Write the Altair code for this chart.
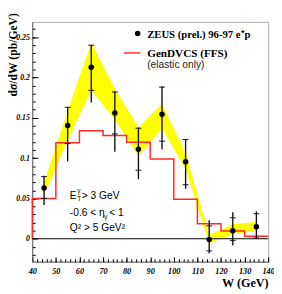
import altair as alt
import pandas as pd

# ---- data ----
W = [45, 55, 65, 75, 85, 95, 105, 115, 125, 135]
xsec = [0.063, 0.1405, 0.2126, 0.156, 0.111, 0.1545, 0.0956, -0.001, 0.010, 0.015]
err_lo = [0.042, 0.096, 0.169, 0.108, 0.074, 0.111, 0.062, -0.018, -0.008, 0.000]
err_hi = [0.078, 0.163, 0.240, 0.183, 0.138, 0.189, 0.124, 0.023, 0.033, 0.034]
stat_lo = [0.050, 0.118, 0.184, 0.130, 0.085, 0.121, 0.067, -0.015, -0.002, 0.001]
stat_hi = [0.077, 0.163, 0.240, 0.182, 0.137, 0.188, 0.123, 0.016, 0.026, 0.031]
band_lo = [0.054, 0.122, 0.184, 0.148, 0.102, 0.137, 0.086, -0.006, 0.006, 0.010]
band_hi = [0.070, 0.158, 0.243, 0.186, 0.138, 0.167, 0.106, 0.005, 0.018, 0.021]

mc_edges = [40, 40, 50, 60, 70, 80, 90, 100, 110, 120, 130, 140]
mc_vals = [0.0, 0.050, 0.119, 0.134, 0.128, 0.1197, 0.099, 0.049, 0.0185, 0.0096, 0.003, 0.003]

x_major = list(range(40, 141, 10))
x_minor = list(range(40, 141, 2))
y_major = [0, 0.05, 0.1, 0.15, 0.2, 0.25]
y_minor = [round(-0.02 + 0.01 * k, 3) for k in range(29)]

data = pd.DataFrame(dict(W=W, xsec=xsec, err_lo=err_lo, err_hi=err_hi,
                         stat_lo=stat_lo, stat_hi=stat_hi,
                         band_lo=band_lo, band_hi=band_hi))
mc = pd.DataFrame({"edge": mc_edges, "val": mc_vals, "i": list(range(len(mc_edges)))})
dummy = pd.DataFrame({"a": [0]})

SERIF = "Liberation Serif"
SANS = "Liberation Sans"
PW, PH = 243, 247

xs = alt.Scale(domain=[40, 140], nice=False, zero=False)
ys = alt.Scale(domain=[-0.0284, 0.2689], nice=False, zero=False)

x_lab_axis = alt.Axis(orient="bottom", values=x_major, ticks=False, tickSize=0,
                      domain=True, domainColor="#666", grid=False,
                      labelFont=SERIF, labelFontStyle="italic", labelFontWeight="bold",
                      labelFontSize=8.5, labelColor="black", labelPadding=5,
                      labelFlush=False, labelOverlap=False,
                      title="W (GeV)", titleFont=SERIF, titleFontWeight="bold",
                      titleFontSize=12.5, titleColor="black", titleAnchor="end",
                      titleAlign="right", titleX=PW, titleY=26,
                      titleBaseline="alphabetic")
y_lab_axis = alt.Axis(orient="left", values=y_major, ticks=False, tickSize=0,
                      domain=True, domainColor="#666", grid=False,
                      labelExpr="format(datum.value, '.2~f')",
                      labelFont=SERIF, labelFontStyle="italic", labelFontWeight="bold",
                      labelFontSize=8, labelColor="black", labelPadding=3,
                      labelFlush=False, labelOverlap=False,
                      title="dσ/dW (pb/GeV)", titleFont=SERIF, titleFontWeight="bold",
                      titleFontSize=12, titleColor="black", titleAngle=270,
                      titleAlign="right", titleBaseline="alphabetic",
                      titleX=-15.8, titleY=-9.5)
x_maj_axis = alt.Axis(orient="bottom", values=x_major, labels=False, domain=False,
                      grid=False, tickSize=5, tickColor="black", offset=-5, title=None)
x_min_axis = alt.Axis(orient="bottom", values=x_minor, labels=False, domain=False,
                      grid=False, tickSize=3, tickColor="black", offset=-3, title=None)
y_maj_axis = alt.Axis(orient="left", values=y_major, labels=False, domain=False,
                      grid=False, tickSize=6, tickColor="black", offset=-6, title=None)
y_min_axis = alt.Axis(orient="left", values=y_minor, labels=False, domain=False,
                      grid=False, tickSize=3, tickColor="black", offset=-3, title=None)

band = alt.Chart(data).mark_area(color="#ffff00", opacity=1).encode(
    x=alt.X("W:Q", scale=xs, axis=x_lab_axis),
    y=alt.Y("band_lo:Q", scale=ys, axis=y_lab_axis),
    y2="band_hi:Q")

mc_line = alt.Chart(mc).mark_line(color="#ff2a2a", strokeWidth=1.5,
                                  interpolate="step-after").encode(
    x=alt.X("edge:Q", scale=xs, axis=None),
    y=alt.Y("val:Q", scale=ys, axis=None),
    order="i:O")

zero = alt.Chart(dummy).mark_rule(color="black", strokeWidth=1).encode(
    x=alt.value(0), x2=alt.value(PW), y=alt.YDatum(0, scale=ys, axis=None))

err = alt.Chart(data).mark_rule(color="#111", strokeWidth=1.4).encode(
    x=alt.X("W:Q", scale=xs, axis=x_maj_axis),
    y=alt.Y("err_lo:Q", scale=ys, axis=y_maj_axis),
    y2="err_hi:Q")

tick_lo = alt.Chart(data).mark_tick(orient="horizontal", size=6, thickness=1,
                                    color="#111", opacity=1).encode(
    x=alt.X("W:Q", scale=xs, axis=x_min_axis),
    y=alt.Y("stat_lo:Q", scale=ys, axis=y_min_axis))
tick_hi = alt.Chart(data).mark_tick(orient="horizontal", size=6, thickness=1,
                                    color="#111", opacity=1).encode(
    x=alt.X("W:Q", scale=xs, axis=None),
    y=alt.Y("stat_hi:Q", scale=ys, axis=None))

pts = alt.Chart(data).mark_circle(size=32, color="black", opacity=1).encode(
    x=alt.X("W:Q", scale=xs, axis=None),
    y=alt.Y("xsec:Q", scale=ys, axis=None))

# ---- legend ----
leg_pt = alt.Chart(dummy).mark_circle(size=32, color="black", opacity=1,
                                      x=108.6, y=12)
leg_line = alt.Chart(dummy).mark_rule(color="#ff2a2a", strokeWidth=1.5).encode(
    x=alt.value(94.7), x2=alt.value(111.3), y=alt.value(32))
leg_t1 = alt.Chart(dummy).mark_text(text="ZEUS (prel.) 96-97 e⁺p", align="left",
                                    baseline="alphabetic", font=SERIF, fontWeight="bold",
                                    fontSize=11, color="black", x=118.4, y=16.3)
leg_t2 = alt.Chart(dummy).mark_text(text="GenDVCS (FFS)", align="left",
                                    baseline="alphabetic", font=SERIF, fontWeight="bold",
                                    fontSize=11.5, color="black", x=118.4, y=36.3)
leg_t3 = alt.Chart(dummy).mark_text(text="(elastic only)", align="left",
                                    baseline="alphabetic", font=SANS,
                                    fontSize=10.5, color="#222", x=118.4, y=47)

# ---- cut annotations ----
def txt(s, x, y, size=10.5):
    return alt.Chart(dummy).mark_text(text=s, align="left", baseline="alphabetic",
                                      font=SANS, fontSize=size, color="black",
                                      x=x, y=y)

ann = [
    txt("E", 38.5, 182),
    txt("γ", 46.3, 176.5, size=6.5),
    txt("T", 46.3, 184.5, size=6.5),
    txt("> 3 GeV", 51, 182),
    txt("-0.6 < η", 38.7, 199.7),
    txt("γ", 74.2, 203, size=6.5),
    txt("< 1", 79.2, 199.7),
    txt("Q² > 5 GeV²", 38.7, 215.7),
]

chart = alt.layer(band, mc_line, zero, err, tick_lo, tick_hi, pts,
                  leg_pt, leg_line, leg_t1, leg_t2, leg_t3, *ann).resolve_axis(
    x="independent", y="independent"
).properties(
    width=PW, height=PH,
    autosize=alt.AutoSizeParams(type="none"),
    padding={"left": 25, "top": 10, "right": 6, "bottom": 29},
).configure_view(stroke="#aaa", strokeWidth=1)

chart.save("out.html", embed_options={"renderer": "svg", "actions": False})
